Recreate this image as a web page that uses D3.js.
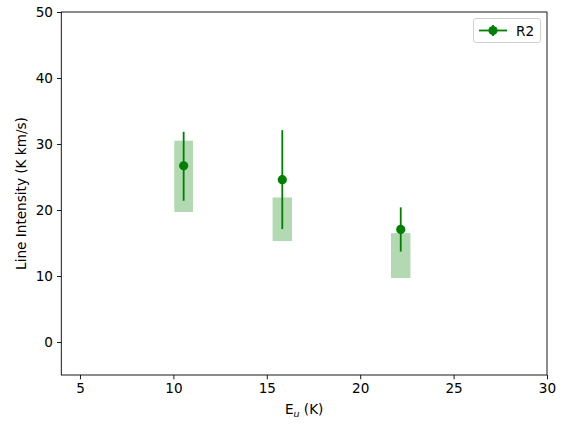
<!DOCTYPE html>
<html><head><meta charset="utf-8">
<script src="https://cdn.jsdelivr.net/npm/d3@7"></script>
<style>body{margin:0;background:#fff}svg{display:block;font-family:"DejaVu Sans",sans-serif}</style>
</head><body><svg id="c" width="564" height="426"></svg>
<script>
const eu = [10.55, 15.83, 22.17];
const intensity = [26.7, 24.6, 17.05];
const errLow = [5.3, 7.5, 3.35];
const errHigh = [5.15, 7.5, 3.35];
const bandLow = [19.7, 15.3, 9.7];
const bandHigh = [30.5, 21.9, 16.5];
const bandHalfWidth = [0.5, 0.52, 0.52];
const xTicks = [5, 10, 15, 20, 25, 30];
const yTicks = [0, 10, 20, 30, 40, 50];
const seriesName = "R2";

const svg = d3.select("#c");
const L = 61.3, R = 547, T = 12, B = 375;
const x = d3.scaleLinear().domain([4, 30]).range([L, R]);
const y = d3.scaleLinear().domain([-5, 50]).range([B, T]);
const green = "#008000";
const fs = "13.6px";

// bands
svg.append("g").selectAll("rect").data(eu).join("rect")
  .attr("x", (d,i) => x(d - bandHalfWidth[i]))
  .attr("width", (d,i) => x(d + bandHalfWidth[i]) - x(d - bandHalfWidth[i]))
  .attr("y", (d,i) => y(bandHigh[i]))
  .attr("height", (d,i) => y(bandLow[i]) - y(bandHigh[i]))
  .attr("fill", green).attr("fill-opacity", 0.3);

// error bars
svg.append("g").selectAll("line").data(eu).join("line")
  .attr("x1", d => x(d)).attr("x2", d => x(d))
  .attr("y1", (d,i) => y(intensity[i] - errLow[i]))
  .attr("y2", (d,i) => y(intensity[i] + errHigh[i]))
  .attr("stroke", green).attr("stroke-width", 1.8);
svg.append("g").selectAll("circle").data(eu).join("circle")
  .attr("cx", d => x(d)).attr("cy", (d,i) => y(intensity[i]))
  .attr("r", 4.6).attr("fill", green);

// axes
const xa = svg.append("g").attr("transform", `translate(0,${B})`)
  .call(d3.axisBottom(x).tickValues(xTicks).tickSize(4.3).tickPadding(4));
const ya = svg.append("g").attr("transform", `translate(${L},0)`)
  .call(d3.axisLeft(y).tickValues(yTicks).tickSize(4.3).tickPadding(4));
[xa, ya].forEach(a => {
  a.select(".domain").remove();
  a.selectAll("text").attr("font-size", fs).attr("font-family", "DejaVu Sans").attr("fill", "#000");
  a.selectAll("line").attr("stroke", "#000").attr("stroke-width", 0.9);
});
svg.append("rect").attr("x", L).attr("y", T).attr("width", R - L).attr("height", B - T)
  .attr("fill", "none").attr("stroke", "#000").attr("stroke-width", 0.9);

// labels
const xl = svg.append("text").attr("x", (L + R) / 2).attr("y", 414).attr("text-anchor", "middle")
  .attr("font-size", fs);
xl.append("tspan").text("E");
xl.append("tspan").text("u").attr("font-style", "italic").attr("font-size", "9.5px").attr("dy", 2.5);
xl.append("tspan").text(" (K)").attr("dy", -2.5);
svg.append("text").attr("transform", `translate(26,${(T + B) / 2}) rotate(-90)`)
  .attr("text-anchor", "middle").attr("font-size", fs).text("Line Intensity (K km/s)");

// legend
const lg = svg.append("g");
lg.append("rect").attr("x", 473.5).attr("y", 18.5).attr("width", 67).attr("height", 24).attr("rx", 2.5)
  .attr("fill", "#fff").attr("fill-opacity", 0.8).attr("stroke", "#ccc").attr("stroke-width", 0.9);
lg.append("line").attr("x1", 479).attr("x2", 507).attr("y1", 30.5).attr("y2", 30.5)
  .attr("stroke", green).attr("stroke-width", 1.8);
lg.append("line").attr("x1", 493).attr("x2", 493).attr("y1", 25).attr("y2", 36)
  .attr("stroke", green).attr("stroke-width", 1.8);
lg.append("circle").attr("cx", 493).attr("cy", 30.5).attr("r", 4.6).attr("fill", green);
lg.append("text").attr("x", 516).attr("y", 35.5).attr("font-size", fs).text(seriesName);
</script></body></html>
